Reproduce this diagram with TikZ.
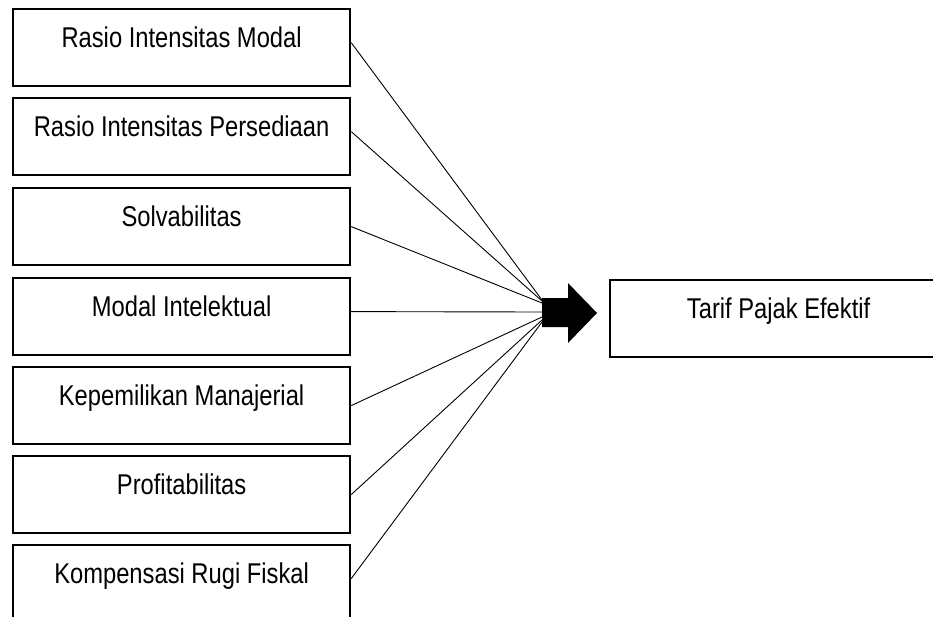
\documentclass[tikz,border=0pt]{standalone}
\usepackage{fontspec}
\setmainfont[FakeStretch=0.83]{Liberation Sans}
\usepackage{tikz}
\usetikzlibrary{arrows, arrows.meta}

\begin{document}
\begin{tikzpicture}[x=1pt, y=-1pt,
		kotak/.style={draw=black, line width=2.2pt, anchor=north west, inner xsep=0pt, inner ysep=0pt,
			minimum width=337pt, text height=38pt, text depth=39pt,
			font=\fontsize{28.6pt}{34pt}\selectfont}]
				\useasboundingbox (0,0) rectangle (933,616);
				\node[kotak] (var1) at (12,8)   {Rasio Intensitas Modal};%
				\node[kotak] (var2) at (12,97)  {Rasio Intensitas Persediaan};%
				\node[kotak] (var3) at (12,187) {Solvabilitas};%
				\node[kotak] (var4) at (12,277) {Modal Intelektual};%
				\node[kotak] (var5) at (12,366) {Kepemilikan Manajerial};%
				\node[kotak] (var6) at (12,455) {Profitabilitas};%
				\node[kotak] (var7) at (12,544) {Kompensasi Rugi Fiskal};%
				\node[kotak] (tpe)  at (609,279) {Tarif Pajak Efektif};%
				% panah blok
				\fill[black] (542,298) -- (568,298) -- (568,283) -- (597,313) -- (568,343) -- (568,327) -- (542,327) -- cycle;
				\coordinate (ujung1) at (542,300);
				\coordinate (ujung2) at (542,301);
				\coordinate (ujung3) at (542,303);
				\coordinate (ujung4) at (542,312);
				\coordinate (ujung5) at (542,317);
				\coordinate (ujung6) at (542,320);
				\coordinate (ujung7) at (542,322);
				\draw[-, line width=0.9pt] ([yshift=5pt]var1.east) -- (ujung1);
				\draw[-, line width=0.9pt] ([yshift=5pt]var2.east) -- (ujung2);
				\draw[-, line width=0.9pt] (var3.east) -- (ujung3);
				\draw[-, line width=0.9pt] ([yshift=5pt]var4.east) -- (ujung4);
				\draw[-, line width=0.9pt] (var5.east) -- (ujung5);
				\draw[-, line width=0.9pt] (var6.east) -- (ujung6);
				\draw[-, line width=0.9pt] ([yshift=5pt]var7.east) -- (ujung7);
			\end{tikzpicture}
\end{document}
